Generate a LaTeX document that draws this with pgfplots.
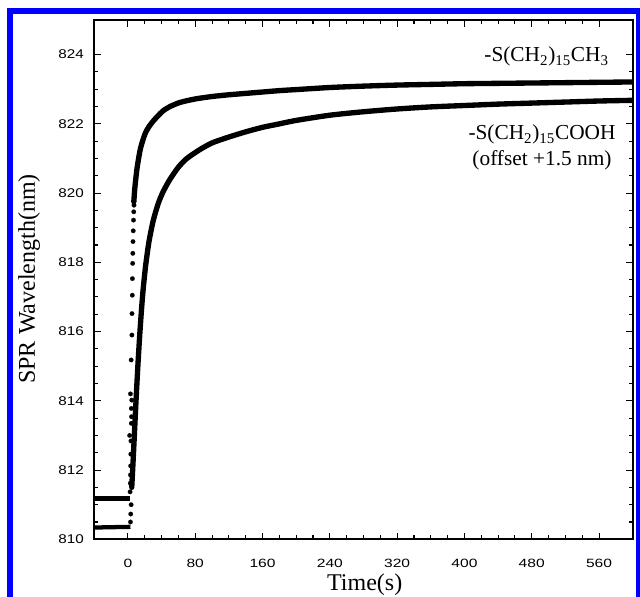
\documentclass[border=0pt]{standalone}
\usepackage{fontspec}
\setmainfont{Liberation Serif}
\newfontfamily\tickfont{Liberation Sans}
\usepackage{graphicx}
\usepackage{pgfplots}
\pgfplotsset{compat=1.18}

\begin{document}
\begin{tikzpicture}
% frame of the figure, in pixel units of the reference
\begin{scope}[x=0.75pt,y=0.75pt]
\useasboundingbox (0,0) rectangle (640,597);
\fill[blue] (7,0) rectangle (13,589);
\fill[blue] (7,583) rectangle (640,589);
\fill[blue] (636,0) rectangle (640,589);
\end{scope}

\begin{axis}[
    at={(70.725pt,43.275pt)}, anchor=south west,
    scale only axis, width=403.8pt, height=389.475pt,
    xmin=-40, xmax=600, ymin=810, ymax=825,
    xtick={0,80,...,560}, ytick={810,812,...,824},
    minor x tick num=3, minor y tick num=3,
    tick align=inside,
    major tick length=5pt, minor tick length=3pt,
    line width=1.4pt,
    every tick/.style={black, line width=0.8pt},
    xticklabel={\scalebox{1.3}[1]{\tickfont\fontsize{9}{10}\selectfont\pgfmathprintnumber[assume math mode=true]{\tick}}},
    yticklabel={\scalebox{1.2}[1]{\tickfont\fontsize{9.5}{10}\selectfont\pgfmathprintnumber[assume math mode=true]{\tick}}},
    xticklabel style={yshift=-10.5pt},
    yticklabel style={xshift=-3.8pt},
]
% -S(CH2)15CH3 : baseline, sparse rise, dense band
\addplot[black, line width=3.2pt] coordinates {(-40,811.18) (2.5,811.18)};
\addplot[only marks, mark=*, mark size=1.7pt, mark options={black, fill=black, line width=0.1pt}] coordinates {
    (2.5,811.37) (2.8,811.62) (3.0,811.86) (3.2,812.12) (3.4,812.46) (3.6,812.84)
    (2.0,813.0) (4.0,813.35) (4.2,813.54) (4.0,813.78) (4.5,814.02) (3.0,814.2)
    (3.8,815.18) (4.7,815.9) (4.8,816.52) (5.2,817.05) (5.3,817.53) (5.6,817.97)
    (5.8,818.26) (6.0,818.6) (6.3,818.91) (6.6,819.22) (6.9,819.46) (7.2,819.65)
};
\addplot[black, line width=4pt, smooth, tension=0.4, line cap=round, line join=round] coordinates {
    (7,819.75) (8,820.1) (9.5,820.45) (11,820.75) (13,821.05) (15,821.3) (18,821.55)
    (21,821.75) (25,821.92) (30,822.08) (36,822.24) (42,822.38) (50,822.5) (62,822.62)
    (80,822.72) (100,822.79) (120,822.84) (140,822.88) (160,822.92) (180,822.96)
    (200,822.99) (240,823.05) (280,823.09) (320,823.12) (360,823.14) (400,823.16)
    (440,823.17) (480,823.18) (520,823.19) (560,823.2) (600,823.21)
};
% -S(CH2)15COOH (offset +1.5 nm)
\addplot[black, line width=3.2pt] coordinates {(-40,810.34) (3,810.36)};
\addplot[only marks, mark=*, mark size=1.7pt, mark options={black, fill=black, line width=0.1pt}] coordinates {
    (3.0,810.5) (3.3,810.73) (3.8,811.0)
};
\addplot[black, line width=4pt, smooth, tension=0.4, line cap=round, line join=round] coordinates {
    (4.5,811.5) (6,812.2) (8,813.2) (10,814.2) (12,815.1) (14,815.9) (16,816.6)
    (18,817.2) (21,817.9) (25,818.6) (30,819.2) (36,819.7) (42,820.05) (50,820.4)
    (60,820.75) (70,821.0) (85,821.25) (100,821.45) (120,821.62) (140,821.77)
    (160,821.9) (180,822.0) (200,822.1) (240,822.25) (280,822.35) (320,822.43)
    (360,822.49) (400,822.53) (440,822.57) (480,822.6) (520,822.63) (560,822.66)
    (600,822.68)
};
\end{axis}

\begin{scope}[x=0.75pt,y=0.75pt]
\node[anchor=base, inner sep=0pt, font=\fontsize{18}{20}\selectfont] at (364.7,6) {Time(s)};
\node[anchor=base, inner sep=0pt, rotate=90, font=\fontsize{18}{20}\selectfont] at (35,318) {SPR Wavelength(nm)};
\node[anchor=base east, inner sep=0pt, font=\fontsize{16}{18}\selectfont] at (609,535.3) {-S(CH\textsubscript{2})\textsubscript{15}CH\textsubscript{3}};
\node[anchor=base, inner sep=0pt, font=\fontsize{16}{18}\selectfont] at (542,457) {-S(CH\textsubscript{2})\textsubscript{15}COOH};
\node[anchor=base, inner sep=0pt, font=\fontsize{16}{18}\selectfont] at (542,431) {(offset +1.5 nm)};
\end{scope}
\end{tikzpicture}
\end{document}
